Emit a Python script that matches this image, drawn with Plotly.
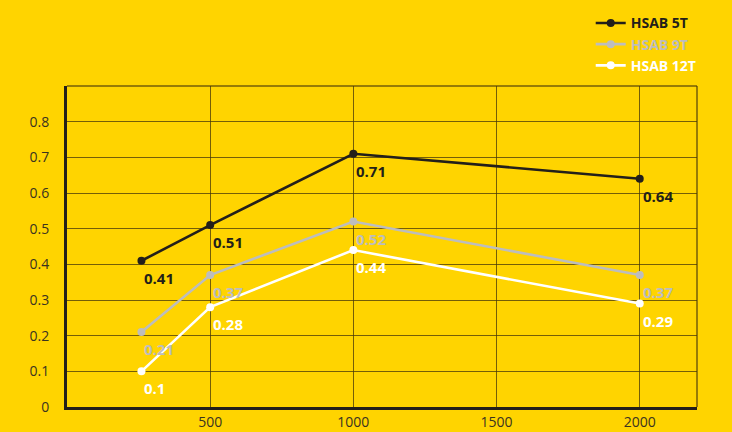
import plotly.graph_objects as go

x_vals = [260, 500, 1000, 2000]
series_names = ["HSAB 5T", "HSAB 9T", "HSAB 12T"]
hsab_5t = [0.41, 0.51, 0.71, 0.64]
hsab_9t = [0.21, 0.37, 0.52, 0.37]
hsab_12t = [0.10, 0.28, 0.44, 0.29]
y_ticks = [0, 0.1, 0.2, 0.3, 0.4, 0.5, 0.6, 0.7, 0.8]
y_tick_text = ["0", "0.1", "0.2", "0.3", "0.4", "0.5", "0.6", "0.7", "0.8"]
x_ticks = [500, 1000, 1500, 2000]
x_tick_text = ["500", "1000", "1500", "2000"]

BG = "#FFD400"
GRID = "rgba(70,55,10,0.75)"
colors = ["#231f1a", "#bdbdbd", "#ffffff"]
FONT = "Open Sans"

fig = go.Figure()
annotations = []
for name, ys, c in zip(series_names, [hsab_5t, hsab_9t, hsab_12t], colors):
    fig.add_trace(go.Scatter(
        x=x_vals, y=ys, mode="lines+markers",
        name=f'<span style="color:{c}"><b>{name}</b></span>',
        line=dict(color=c, width=2.6),
        marker=dict(color=c, size=8),
        cliponaxis=False,
    ))
    for xv, yv in zip(x_vals, ys):
        annotations.append(dict(
            x=xv, y=yv, xref="x", yref="y", text=f"<b>{yv:g}</b>",
            showarrow=False, xanchor="left", yanchor="top",
            xshift=1, yshift=-5,
            font=dict(family=FONT, size=15, color=c),
        ))

fig.update_layout(
    width=732, height=432,
    paper_bgcolor=BG, plot_bgcolor=BG,
    margin=dict(l=67, r=35, t=86, b=25, autoexpand=False),
    font=dict(family=FONT, size=14, color="#3a3320"),
    showlegend=True,
    legend=dict(
        xref="container", yref="container",
        x=0.807, y=0.983, xanchor="left", yanchor="top",
        bgcolor="rgba(0,0,0,0)", font=dict(family=FONT, size=14, color="#231f1a"),
        tracegroupgap=0, itemwidth=30,
    ),
    xaxis=dict(
        range=[0, 2200], tickvals=x_ticks, ticktext=x_tick_text,
        showgrid=True, gridcolor=GRID, gridwidth=1.3,
        showline=True, linecolor="#231f1a", linewidth=3,
        zeroline=False, ticks="", fixedrange=True, automargin=False,
    ),
    yaxis=dict(
        range=[0, 0.9], tickvals=y_ticks, ticktext=y_tick_text,
        showgrid=True, gridcolor=GRID, gridwidth=1.3,
        showline=True, linecolor="#231f1a", linewidth=3,
        zeroline=False, ticks="", ticklabelstandoff=12, fixedrange=True,
        automargin=False,
    ),
    annotations=annotations,
    shapes=[
        dict(type="line", xref="paper", yref="paper", x0=0, x1=1, y0=1, y1=1,
             line=dict(color=GRID, width=1.5)),
        dict(type="line", xref="paper", yref="paper", x0=1, x1=1, y0=0, y1=1,
             line=dict(color=GRID, width=1.5)),
    ],
)

fig.write_html(
    "out.html",
    post_script="document.body.style.margin='0';document.body.style.background='" + BG + "';",
    config={"displayModeBar": False},
)
